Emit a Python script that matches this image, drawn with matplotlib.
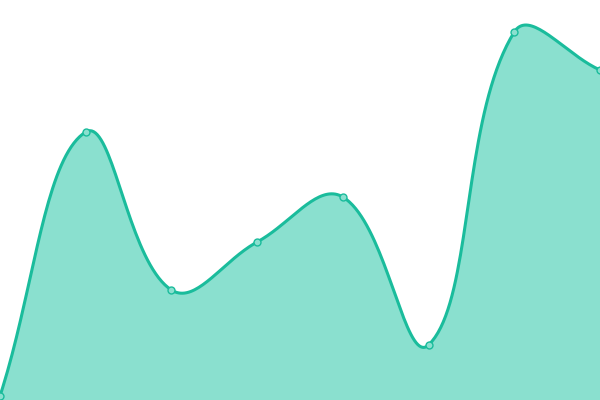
import numpy as np
import matplotlib
matplotlib.use('Agg')
import matplotlib.pyplot as plt

labels = ['A', 'B', 'C', 'D', 'E', 'F', 'G', 'H']
values = [4, 268, 110, 158, 203, 55, 368, 330]

line_color = '#1abc9c'
fill_color = '#8ae0cf'


def spline_path(pts, tension=0.4, n=40, area=None):
    # chart.js style spline, control points worked out in pixel space
    cps = []
    for i in range(len(pts)):
        prev = pts[max(i - 1, 0)]
        cur = pts[i]
        nxt = pts[min(i + 1, len(pts) - 1)]
        d01 = np.hypot(*(cur - prev))
        d12 = np.hypot(*(nxt - cur))
        s01 = d01 / (d01 + d12) if d01 + d12 else 0
        s12 = d12 / (d01 + d12) if d01 + d12 else 0
        fa = tension * s01
        fb = tension * s12
        c_prev = cur - fa * (nxt - prev)
        c_next = cur + fb * (nxt - prev)
        if area is not None:
            c_prev = np.clip(c_prev, area[0], area[1])
            c_next = np.clip(c_next, area[0], area[1])
        cps.append((c_prev, c_next))
    t = np.linspace(0, 1, n)[:, None]
    out = []
    for i in range(len(pts) - 1):
        p1, p2 = pts[i], pts[i + 1]
        c1, c2 = cps[i][1], cps[i + 1][0]
        b = ((1 - t) ** 3 * p1 + 3 * (1 - t) ** 2 * t * c1
             + 3 * (1 - t) * t ** 2 * c2 + t ** 3 * p2)
        out.append(b)
    return np.vstack(out)


fig = plt.figure(figsize=(6, 4), dpi=100)
ax = fig.add_axes([0, 0, 1, 1])
x = np.arange(len(values), dtype=float)
ax.set_xlim(0, len(values) - 1)
ax.set_ylim(0, 400)
ax.axis('off')

disp = ax.transData.transform(np.column_stack([x, values]))
bbox = ax.bbox
curve = spline_path(disp, area=(np.array([bbox.x0, bbox.y0]),
                                np.array([bbox.x1, bbox.y1])))
curve = ax.transData.inverted().transform(curve)
sx, sy = curve[:, 0], curve[:, 1]

ax.fill_between(sx, 0, sy, color=fill_color, linewidth=0)
ax.plot(sx, sy, color=line_color, linewidth=2.2, solid_capstyle='round')
ax.plot(x, values, 'o', markersize=5, markerfacecolor=fill_color,
        markeredgecolor=line_color, markeredgewidth=1)
fig.savefig('out.png', dpi=100)
